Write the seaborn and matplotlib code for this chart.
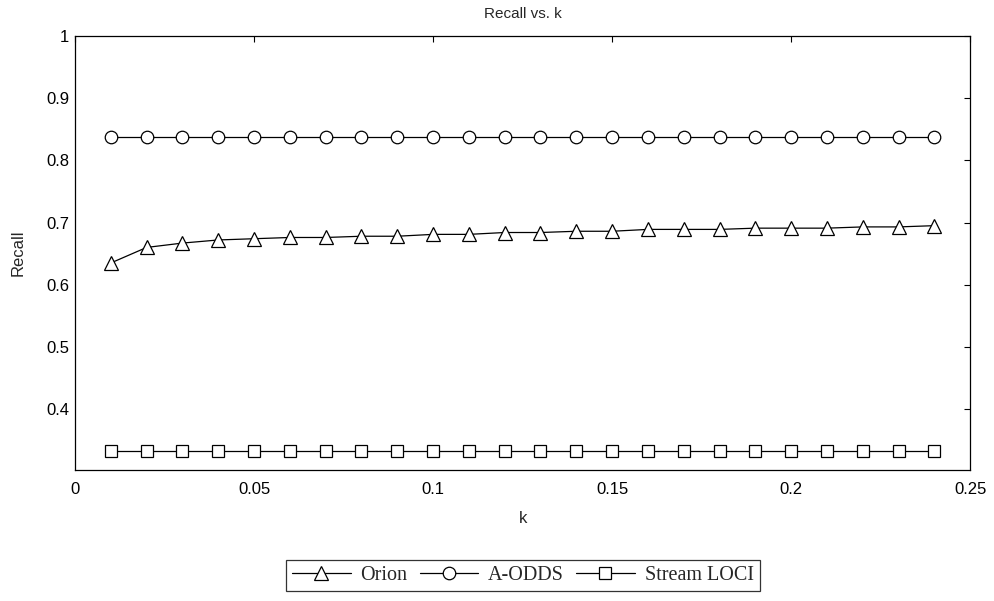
import matplotlib
matplotlib.use("Agg")
import matplotlib.pyplot as plt
import seaborn as sns
import pandas as pd

k = [0.01, 0.02, 0.03, 0.04, 0.05, 0.06, 0.07, 0.08, 0.09, 0.10, 0.11, 0.12,
     0.13, 0.14, 0.15, 0.16, 0.17, 0.18, 0.19, 0.20, 0.21, 0.22, 0.23, 0.24]
orion = [0.635, 0.660, 0.667, 0.672, 0.674, 0.676, 0.676, 0.678, 0.678, 0.681,
         0.681, 0.684, 0.684, 0.686, 0.686, 0.689, 0.689, 0.689, 0.691, 0.691,
         0.691, 0.693, 0.693, 0.695]
a_odds = [0.838] * 24
stream_loci = [0.333] * 24
series_names = ["Orion", "A-ODDS", "Stream LOCI"]
series_markers = ["^", "o", "s"]
xticks = [0, 0.05, 0.1, 0.15, 0.2, 0.25]
yticks = [0.4, 0.5, 0.6, 0.7, 0.8, 0.9, 1.0]

sns.set_theme(style="white")
plt.rcParams["font.family"] = ["Liberation Sans", "DejaVu Sans"]

fig = plt.figure(figsize=(9.94, 6.01), dpi=100)
ax = fig.add_axes([0.0755, 0.218, 0.9005, 0.722])

for name, vals, mk in zip(series_names, [orion, a_odds, stream_loci], series_markers):
    df = pd.DataFrame({"k": k, "Recall": vals})
    sns.lineplot(data=df, x="k", y="Recall", ax=ax, color="black", linewidth=0.9,
                 marker=mk, markersize=10 if mk == "^" else 9,
                 markerfacecolor="white", markeredgecolor="black",
                 markeredgewidth=0.9, label=name, legend=False)

ax.set_xlim(0, 0.25)
ax.set_ylim(0.302, 1.0)
ax.set_xticks(xticks)
ax.set_xticklabels(["%g" % t for t in xticks])
ax.set_yticks(yticks)
ax.set_yticklabels(["%g" % t for t in yticks])
ax.tick_params(direction="in", top=True, right=True, length=4, width=0.8,
               labelsize=12, colors="black")
ax.tick_params(axis="x", pad=9)
ax.tick_params(axis="y", pad=4)
for sp in ax.spines.values():
    sp.set_color("black")
    sp.set_linewidth(0.9)

ax.set_title("Recall vs. k", fontsize=11, pad=13)
ax.set_xlabel("k", fontsize=12, labelpad=10)
ax.set_ylabel("Recall", fontsize=12, labelpad=15)

handles, labels = ax.get_legend_handles_labels()
leg = fig.legend(handles, labels, loc="center", bbox_to_anchor=(0.526, 0.042),
                 ncol=3, frameon=True, fancybox=False, edgecolor="black",
                 prop={"family": "Liberation Serif", "size": 14.5},
                 handlelength=2.9, columnspacing=0.6, handletextpad=0.5,
                 borderpad=0.3, borderaxespad=0)
leg.get_frame().set_linewidth(0.9)

fig.savefig("out.png", dpi=100, facecolor="white")
